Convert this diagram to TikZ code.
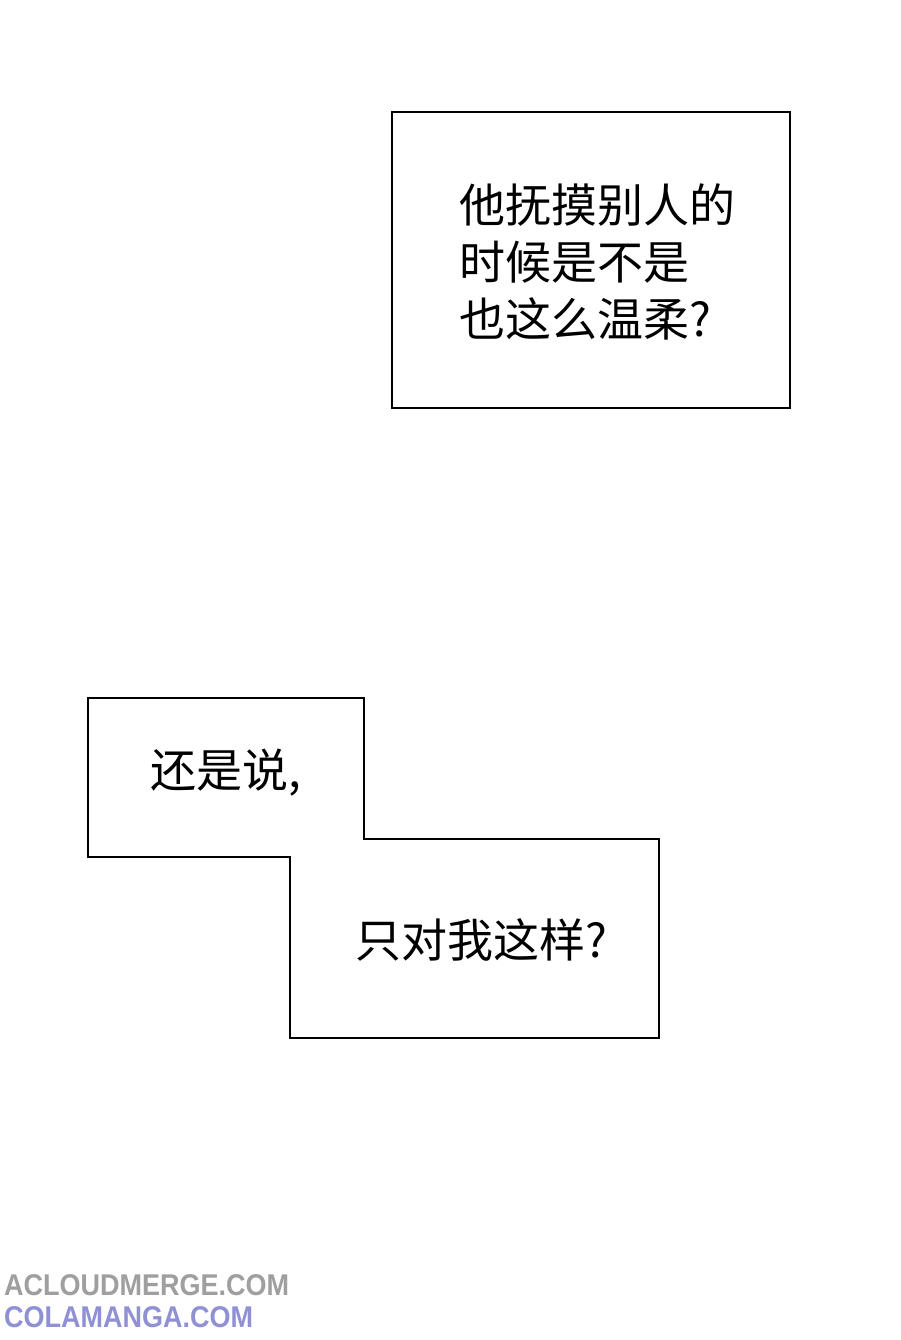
\documentclass[tikz,border=0pt]{standalone}
\usepackage{fontspec}
\newfontfamily\cjk{Noto Sans CJK SC}
\newfontfamily\wm{Liberation Sans}
\begin{document}
\begin{tikzpicture}[x=1pt,y=-1pt,
  box/.style={draw=black,line width=1.6pt,fill=white},
  txt/.style={font=\cjk\fontsize{46}{57}\selectfont,align=left,anchor=west,inner sep=0pt},
  wmark/.style={font=\wm\bfseries\fontsize{30}{30}\selectfont,anchor=west,inner sep=0pt,xscale=0.9}]
\useasboundingbox (0,0) rectangle (900,1340);
\fill[white] (0,0) rectangle (900,1340);
\draw[box] (392,112) rectangle (790,408);
\node[txt] (t1) at (459,262) {他抚摸别人的\\时候是不是\\也这么温柔?};
\draw[box] (88,698) -- (364,698) -- (364,839) -- (659,839) -- (659,1038) -- (290,1038) -- (290,857) -- (88,857) -- cycle;
\node[txt] (t2) at (150,773) {还是说,};
\node[txt] (t3) at (355,940) {只对我这样?};
\node[wmark,text=gray!75] (w1) at (4,1285) {ACLOUDMERGE.COM};
\node[wmark,text=blue!45!gray!60] (w2) at (4,1317) {COLAMANGA.COM};
\end{tikzpicture}
\end{document}
